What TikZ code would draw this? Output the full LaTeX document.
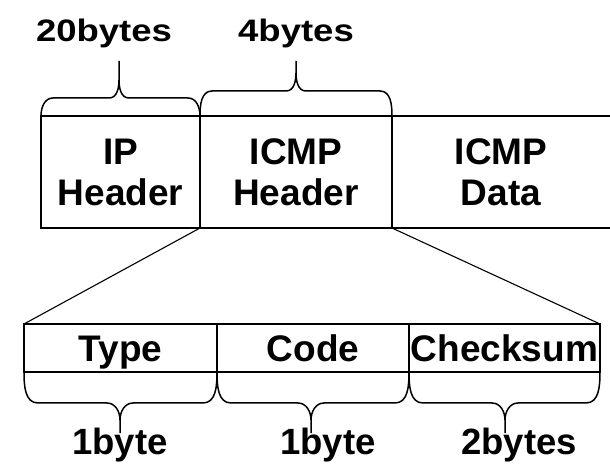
\documentclass[tikz,border=0pt]{standalone}
\usepackage{fontspec}
\setmainfont{Liberation Sans}
\usetikzlibrary{calc}

% curly brace above a field: #1 left end, #2 right end, #3 tip, #4 rise of the bar
\newcommand{\bracetop}[4]{%
  \draw[brc] let \p1=(#1), \p2=(#2), \p3=(#3) in
    (\p1) to[out=90,in=180] (\x1+12pt,\y1+#4) -- (\x3-10pt,\y1+#4)
          to[out=0,in=-90] (\x3,\y1+#4+18pt) -- (\p3)
    (\p2) to[out=90,in=0] (\x2-12pt,\y1+#4) -- (\x3+10pt,\y1+#4)
          to[out=180,in=-90] (\x3,\y1+#4+18pt);}

% curly brace below a field: #1 left end, #2 right end, #3 tip, #4 drop of the bar
\newcommand{\bracebottom}[4]{%
  \draw[brc] let \p1=(#1), \p2=(#2), \p3=(#3) in
    (\p1) to[out=-90,in=180] (\x1+14pt,\y1-#4) -- (\x3-13pt,\y1-#4)
          to[out=0,in=90] (\x3,\y1-#4-17pt) -- (\p3)
    (\p2) to[out=-90,in=0] (\x2-14pt,\y1-#4) -- (\x3+13pt,\y1-#4)
          to[out=180,in=90] (\x3,\y1-#4-17pt);}

\begin{document}
\begin{tikzpicture}[x=1pt,y=1pt,
  cell/.style={draw, line width=1.5pt, rectangle, inner sep=0pt, outer sep=0pt,
    align=center, font=\fontsize{37}{41}\selectfont\bfseries},
  field/.style={cell, minimum height=48pt, text height=26.5pt, text depth=0pt},
  lbl/.style={inner sep=0pt, anchor=base, font=\fontsize{36.5}{40}\selectfont\bfseries},
  brc/.style={line width=1.5pt},
  edge/.style={line width=1.5pt},
  fan/.style={line width=1.1pt}]
\useasboundingbox (0,0) rectangle (610,463);

% packet layout
\node[cell, minimum width=159pt, minimum height=112pt] (ip) at (120.5,291) {IP\\Header};
\node[cell, minimum width=192pt, minimum height=112pt] (hd) at (296,291) {ICMP\\Header};
\node[cell, draw=none, minimum width=218pt, minimum height=112pt] (dat) at (501,291) {ICMP\\Data};
\draw[edge] (dat.north west) -- (dat.north east) (dat.south west) -- (dat.south east);

% ICMP header fields
\node[field, minimum width=193pt] (typ) at (120.5,115) {Type};
\node[field, minimum width=192pt] (cod) at (313,115) {Code};
\node[field, minimum width=191pt] (chk) at (504.5,115) {Checksum};

\draw[fan] (hd.south west) -- (typ.north west);
\draw[fan] (hd.south east) -- (chk.north east);

% sizes above the packet
\coordinate (t1) at (119,402);
\coordinate (t2) at (296,402);
\bracetop{ip.north west}{ip.north east}{t1}{18pt}
\bracetop{hd.north west}{hd.north east}{t2}{25pt}
\node[lbl] (s20) at (104,421) {\scalebox{1}[0.85]{20bytes}};
\node[lbl] (s4) at (296,421) {\scalebox{1}[0.85]{4bytes}};

% sizes below the fields
\coordinate (b1) at (120,30);
\coordinate (b2) at (311,30);
\coordinate (b3) at (505,30);
\bracebottom{typ.south west}{typ.south east}{b1}{31pt}
\bracebottom{cod.south west}{cod.south east}{b2}{31pt}
\bracebottom{chk.south west}{chk.south east}{b3}{31pt}
\node[lbl] (s1a) at (120,8.5) {1byte};
\node[lbl] (s1b) at (328,8.5) {1byte};
\node[lbl] (s2) at (519,8.5) {2bytes};
\end{tikzpicture}
\end{document}
